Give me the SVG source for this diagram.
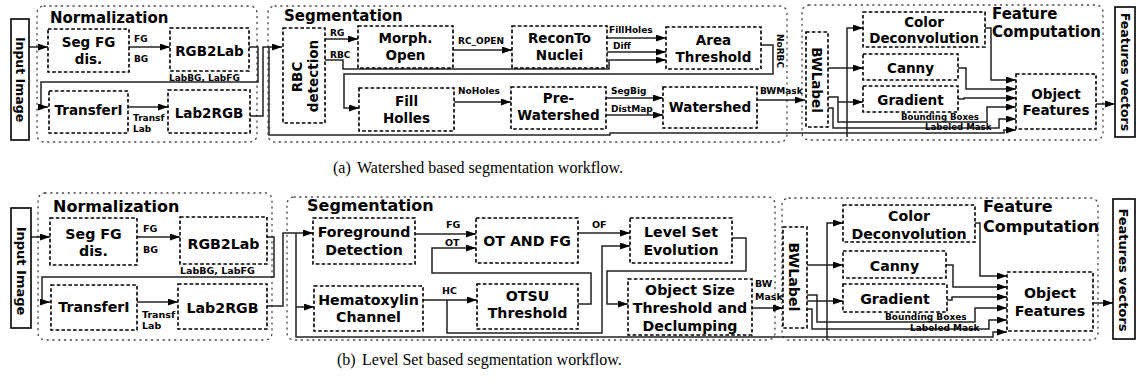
<svg xmlns="http://www.w3.org/2000/svg" width="1136" height="381" viewBox="0 0 1136 381">
  <defs>
    <marker id="ah" viewBox="0 0 10 7" refX="10" refY="3.5" markerWidth="10" markerHeight="7" markerUnits="userSpaceOnUse" orient="auto">
      <path d="M0,0 L10,3.5 L0,7 z" fill="#000"/>
    </marker>
    <style>
      .grp { fill: none; stroke: #444; stroke-width: 1.3; stroke-dasharray: 1.2 4.6; stroke-linecap: round; }
      .box { fill: none; stroke: #000; stroke-width: 1.6; stroke-dasharray: 3.6 2.2; }
      .io { fill: #fff; stroke: #000; stroke-width: 1.6; }
      .c { fill: none; stroke: #222; stroke-width: 1.5; }
      .a { marker-end: url(#ah); }
      text { font-family: "DejaVu Sans", "Liberation Sans", sans-serif; font-weight: bold; fill: #000; }
      .t1 { font-size: 15px; }
      .t2 { font-size: 16px; }
      .n1 { font-size: 13.5px; text-anchor: middle; }
      .n2 { font-size: 14.2px; text-anchor: middle; }
      .s1 { font-size: 9px; }
      .s2 { font-size: 9.5px; }
      .s3 { font-size: 8.6px; }
      .r1 { font-size: 12.5px; text-anchor: middle; }
      .r2 { font-size: 13px; text-anchor: middle; }
      .cap { font-family: "Liberation Serif", "Times New Roman", serif; font-weight: normal; font-size: 16px; }
    </style>
  </defs>

  <!-- ===================== (a) Watershed workflow ===================== -->
  <g id="a-groups">
    <rect class="grp" x="37" y="6" width="220" height="136" rx="7"/>
    <rect class="grp" x="268" y="6" width="519" height="136" rx="7"/>
    <rect class="grp" x="802" y="5" width="301" height="135" rx="7"/>
    <text class="t1" x="50" y="23">Normalization</text>
    <text class="t1" x="284" y="20.5">Segmentation</text>
    <text class="t1" x="992" y="18.5">Feature</text>
    <text class="t1" x="992" y="37">Computation</text>
  </g>

  <g id="a-connectors">
    <path class="c a" d="M29,47 H48"/>
    <path class="c a" d="M129,47 H170"/>
    <path class="c a" d="M249,47 H258 V82 H41 V107 H48"/>
    <path class="c a" d="M128,107 H168"/>
    <path class="c a" d="M250,116 H263 V47 H282"/>
    <path class="c a" d="M269,47 V135 H610 V133 H1004 V130 H1016"/>
    <path class="c a" d="M847,137 V28 H863"/>
    <path class="c a" d="M325,39 H358"/>
    <path class="c a" d="M325,60 H343 V69 H609 V60 H666"/>
    <path class="c a" d="M453,50 H512"/>
    <path class="c a" d="M607,38 H666"/>
    <path class="c a" d="M607,52 H666"/>
    <path class="c a" d="M761,45 H773 V74 H344 V108 H359"/>
    <path class="c a" d="M454,102 H511"/>
    <path class="c a" d="M606,98 H663"/>
    <path class="c a" d="M606,115 H663"/>
    <path class="c a" d="M757,100 H805"/>
    <path class="c a" d="M828,68 H863"/>
    <path class="c a" d="M828,97 H838 V102 H863"/>
    <path class="c a" d="M838,102 V122 H987 V107 H1016"/>
    <path class="c a" d="M828,108 H833 V128 H999 V119 H1016"/>
    <path class="c a" d="M985,28 H991 V80 H1016"/>
    <path class="c a" d="M958,68 H966 V89 H1016"/>
    <path class="c a" d="M958,99 H964 V98 H1016"/>
    <path class="c a" d="M1096,104 H1115"/>
    <text class="s1" x="134" y="41.5">FG</text>
    <text class="s1" x="134" y="61.5">BG</text>
    <text class="s1" x="169" y="80.5">LabBG, LabFG</text>
    <text class="s1" x="133" y="121">Transf</text>
    <text class="s1" x="133" y="132">Lab</text>
    <text class="s1" x="330" y="35.5">RG</text>
    <text class="s1" x="330" y="57.5">RBC</text>
    <text class="s1" x="458" y="43.5">RC_OPEN</text>
    <text class="s1" x="609" y="33">FillHoles</text>
    <text class="s1" x="613" y="49">Diff</text>
    <text class="s1" transform="translate(777,51) rotate(90)" text-anchor="middle">NoRBC</text>
    <text class="s1" x="458" y="94">NoHoles</text>
    <text class="s1" x="611" y="93.5">SegBig</text>
    <text class="s1" x="611" y="111.5">DistMap</text>
    <text class="s1" x="760" y="94">BWMask</text>
    <text class="s3" x="901" y="120">Bounding Boxes</text>
    <text class="s3" x="925" y="130">Labeled Mask</text>
  </g>

  <g id="a-input-image">
    <rect class="io" x="11" y="19" width="18" height="121"/>
    <text class="r1" transform="translate(15.5,79.5) rotate(90)">Input Image</text>
  </g>
  <g id="a-seg-fg">
    <rect class="box" x="48" y="29" width="81" height="43"/>
    <text class="n1" x="88.5" y="47">Seg FG</text>
    <text class="n1" x="88.5" y="64">dis.</text>
  </g>
  <g id="a-rgb2lab">
    <rect class="box" x="170" y="28" width="79" height="43"/>
    <text class="n1" x="209.5" y="56">RGB2Lab</text>
  </g>
  <g id="a-transferi">
    <rect class="box" x="49" y="91" width="79" height="42"/>
    <text class="n1" x="88.5" y="115">TransferI</text>
  </g>
  <g id="a-lab2rgb">
    <rect class="box" x="168" y="90" width="82" height="43"/>
    <text class="n1" x="209" y="118">Lab2RGB</text>
  </g>
  <g id="a-rbc-detection">
    <rect class="box" x="283" y="28" width="42" height="95"/>
    <text class="n1" transform="translate(302,77) rotate(-90)">RBC</text>
    <text class="n1" transform="translate(318,76) rotate(-90)">detection</text>
  </g>
  <g id="a-morph-open">
    <rect class="box" x="358" y="26" width="95" height="42"/>
    <text class="n1" x="405.5" y="43">Morph.</text>
    <text class="n1" x="405.5" y="60">Open</text>
  </g>
  <g id="a-recon-nuclei">
    <rect class="box" x="512" y="26" width="95" height="42"/>
    <text class="n1" x="559.5" y="43">ReconTo</text>
    <text class="n1" x="559.5" y="60">Nuclei</text>
  </g>
  <g id="a-area-threshold">
    <rect class="box" x="666" y="27" width="95" height="42"/>
    <text class="n1" x="713.5" y="45">Area</text>
    <text class="n1" x="713.5" y="62">Threshold</text>
  </g>
  <g id="a-fill-holes">
    <rect class="box" x="359" y="88" width="95" height="43"/>
    <text class="n1" x="406.5" y="106">Fill</text>
    <text class="n1" x="406.5" y="123">Holles</text>
  </g>
  <g id="a-pre-watershed">
    <rect class="box" x="511" y="87" width="95" height="42"/>
    <text class="n1" x="558.5" y="103">Pre-</text>
    <text class="n1" x="558.5" y="120">Watershed</text>
  </g>
  <g id="a-watershed">
    <rect class="box" x="663" y="87" width="94" height="41"/>
    <text class="n1" x="710" y="112">Watershed</text>
  </g>
  <g id="a-bwlabel">
    <rect class="box" x="806" y="32" width="22" height="95"/>
    <text class="n1" transform="translate(812,80) rotate(90)">BWLabel</text>
  </g>
  <g id="a-color-deconvolution">
    <rect class="box" x="863" y="12" width="122" height="35"/>
    <text class="n1" x="924" y="26.5">Color</text>
    <text class="n1" x="924" y="43">Deconvolution</text>
  </g>
  <g id="a-canny">
    <rect class="box" x="863" y="54" width="95" height="26"/>
    <text class="n1" x="910.5" y="72.5">Canny</text>
  </g>
  <g id="a-gradient">
    <rect class="box" x="863" y="86" width="95" height="26"/>
    <text class="n1" x="910.5" y="104.5">Gradient</text>
  </g>
  <g id="a-object-features">
    <rect class="box" x="1016" y="74" width="80" height="55"/>
    <text class="n1" x="1056" y="98.5">Object</text>
    <text class="n1" x="1056" y="115">Features</text>
  </g>
  <g id="a-features-vectors">
    <rect class="io" x="1115" y="7" width="20" height="130"/>
    <text class="r1" transform="translate(1121,72) rotate(90)">Features vectors</text>
  </g>

  <text class="cap" x="333" y="173">(a)</text>
  <text class="cap" x="357" y="173">Watershed based segmentation workflow.</text>

  <!-- ===================== (b) Level Set workflow ===================== -->
  <g id="b-groups">
    <rect class="grp" x="38" y="193" width="234" height="147" rx="7"/>
    <rect class="grp" x="287" y="197" width="488" height="143" rx="7"/>
    <rect class="grp" x="782" y="198" width="316" height="142" rx="7"/>
    <text class="t2" x="53" y="212">Normalization</text>
    <text class="t2" x="307" y="211">Segmentation</text>
    <text class="t2" x="983" y="212">Feature</text>
    <text class="t2" x="983" y="232">Computation</text>
  </g>

  <g id="b-connectors">
    <path class="c a" d="M31,237 H50"/>
    <path class="c a" d="M137,237 H180"/>
    <path class="c a" d="M267,237 H274 V277 H42 V302 H50"/>
    <path class="c a" d="M137,302 H178"/>
    <path class="c a" d="M267,306 H283 V233 H313"/>
    <path class="c a" d="M296,233 V307 H314"/>
    <path class="c a" d="M296,307 V337 H993 V332 H1007"/>
    <path class="c a" d="M827,340 V223 H843"/>
    <path class="c a" d="M415,234 H476"/>
    <path class="c a" d="M578,304 H591 V273 H432 V248 H476"/>
    <path class="c a" d="M423,300 H477"/>
    <path class="c a" d="M447,300 V333 H602 V246 H630"/>
    <path class="c a" d="M578,233 H630"/>
    <path class="c a" d="M732,238 H746 V271 H607 V304 H628"/>
    <path class="c a" d="M752,308 H783"/>
    <path class="c a" d="M807,265 H843"/>
    <path class="c a" d="M807,295 H817 V322 H975 V308 H1007"/>
    <path class="c a" d="M807,301 H843"/>
    <path class="c a" d="M807,309 H812 V329 H989 V320 H1007"/>
    <path class="c a" d="M975,223 H980 V276 H1007"/>
    <path class="c a" d="M946,265 H953 V287 H1007"/>
    <path class="c a" d="M947,300 H952 V297 H1007"/>
    <path class="c a" d="M1093,303 H1113"/>
    <text class="s2" x="143" y="232">FG</text>
    <text class="s2" x="143" y="253">BG</text>
    <text class="s2" x="180" y="274">LabBG, LabFG</text>
    <text class="s2" x="142" y="318">Transf</text>
    <text class="s2" x="142" y="329">Lab</text>
    <text class="s2" x="446" y="228">FG</text>
    <text class="s2" x="445" y="246">OT</text>
    <text class="s2" x="442" y="294">HC</text>
    <text class="s2" x="592" y="228">OF</text>
    <text class="s2" x="755" y="287">BW</text>
    <text class="s2" x="755" y="300">Mask</text>
    <text class="s1" x="885" y="320">Bounding Boxes</text>
    <text class="s1" x="910" y="331">Labeled Mask</text>
  </g>

  <g id="b-input-image">
    <rect class="io" x="11" y="208" width="20" height="120"/>
    <text class="r2" transform="translate(16.5,271) rotate(90)">Input Image</text>
  </g>
  <g id="b-seg-fg">
    <rect class="box" x="50" y="218" width="87" height="47"/>
    <text class="n2" x="93.5" y="238.5">Seg FG</text>
    <text class="n2" x="93.5" y="255.5">dis.</text>
  </g>
  <g id="b-rgb2lab">
    <rect class="box" x="180" y="217" width="87" height="47"/>
    <text class="n2" x="223.5" y="249">RGB2Lab</text>
  </g>
  <g id="b-transferi">
    <rect class="box" x="51" y="285" width="86" height="45"/>
    <text class="n2" x="94" y="312">TransferI</text>
  </g>
  <g id="b-lab2rgb">
    <rect class="box" x="178" y="284" width="89" height="45"/>
    <text class="n2" x="222.5" y="313">Lab2RGB</text>
  </g>
  <g id="b-foreground-detection">
    <rect class="box" x="313" y="218" width="102" height="46"/>
    <text class="n2" x="364" y="236.5">Foreground</text>
    <text class="n2" x="364" y="255">Detection</text>
  </g>
  <g id="b-ot-and-fg">
    <rect class="box" x="476" y="218" width="102" height="45"/>
    <text class="n2" x="527" y="246">OT AND FG</text>
  </g>
  <g id="b-hematoxylin">
    <rect class="box" x="314" y="286" width="109" height="45"/>
    <text class="n2" x="368.5" y="304.5">Hematoxylin</text>
    <text class="n2" x="368.5" y="322">Channel</text>
  </g>
  <g id="b-otsu">
    <rect class="box" x="477" y="284" width="101" height="45"/>
    <text class="n2" x="527.5" y="301">OTSU</text>
    <text class="n2" x="527.5" y="318">Threshold</text>
  </g>
  <g id="b-level-set">
    <rect class="box" x="630" y="218" width="102" height="45"/>
    <text class="n2" x="681" y="237">Level Set</text>
    <text class="n2" x="681" y="255">Evolution</text>
  </g>
  <g id="b-object-size">
    <rect class="box" x="628" y="279" width="124" height="56"/>
    <text class="n2" x="690" y="294.5">Object Size</text>
    <text class="n2" x="690" y="313">Threshold and</text>
    <text class="n2" x="690" y="330.5">Declumping</text>
  </g>
  <g id="b-bwlabel">
    <rect class="box" x="783" y="227" width="24" height="101"/>
    <text class="n2" transform="translate(789,277) rotate(90)">BWLabel</text>
  </g>
  <g id="b-color-deconvolution">
    <rect class="box" x="843" y="205" width="132" height="37"/>
    <text class="n2" x="909" y="221">Color</text>
    <text class="n2" x="909" y="239">Deconvolution</text>
  </g>
  <g id="b-canny">
    <rect class="box" x="843" y="251" width="103" height="27"/>
    <text class="n2" x="894.5" y="270.5">Canny</text>
  </g>
  <g id="b-gradient">
    <rect class="box" x="843" y="284" width="104" height="28"/>
    <text class="n2" x="895" y="304">Gradient</text>
  </g>
  <g id="b-object-features">
    <rect class="box" x="1007" y="272" width="86" height="59"/>
    <text class="n2" x="1050" y="297.5">Object</text>
    <text class="n2" x="1050" y="315.5">Features</text>
  </g>
  <g id="b-features-vectors">
    <rect class="io" x="1113" y="199" width="22" height="140"/>
    <text class="r2" transform="translate(1119,270) rotate(90)">Features vectors</text>
  </g>

  <text class="cap" x="337" y="365">(b)</text>
  <text class="cap" x="362" y="365">Level Set based segmentation workflow.</text>
</svg>
